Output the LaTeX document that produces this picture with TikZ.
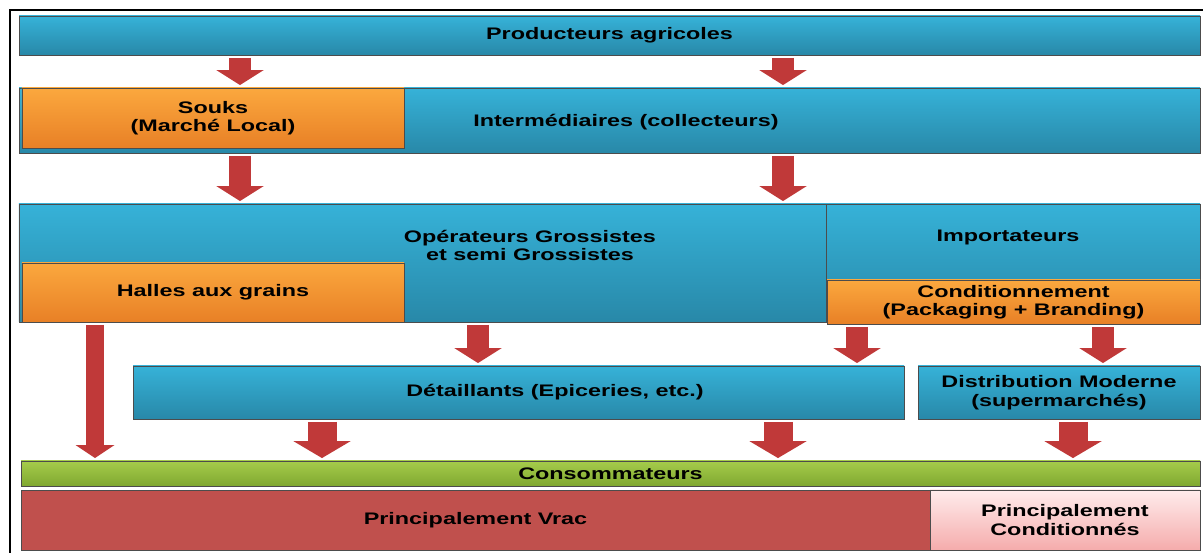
\documentclass[tikz,border=0pt]{standalone}
\usepackage{fontspec}
\setmainfont{Liberation Sans}[FakeStretch=1.4]
\usepackage{tikz}
\usetikzlibrary{arrows.meta, positioning, calc}

\begin{document}
\begin{tikzpicture}[
  box/.style={rectangle, draw=black!70, line width=0.5pt, inner sep=0pt, align=center,
    font=\fontsize{9.5}{10.5}\selectfont\bfseries},
  txt/.style={font=\fontsize{9.5}{10.5}\selectfont\bfseries, align=center, inner sep=0pt},
  bluebox/.style={box, top color=bluetop, bottom color=bluebot},
  orangebox/.style={box, top color=orangetop, bottom color=orangebot},
  flow/.style={draw=arrowred, line width=0.44cm, shorten <=0.05cm, shorten >=0.05cm,
    -{Triangle[width=0.95cm, length=0.3cm, line width=0pt]}},
  bigflow/.style={flow, line width=0.58cm, -{Triangle[width=1.15cm, length=0.34cm, line width=0pt]}},
  thinflow/.style={flow, line width=0.36cm, -{Triangle[width=0.78cm, length=0.26cm, line width=0pt]}}
]
  % Define colors
  \definecolor{bluetop}{RGB}{54,178,216}
  \definecolor{bluebot}{RGB}{40,136,168}
  \definecolor{orangetop}{RGB}{251,168,62}
  \definecolor{orangebot}{RGB}{232,128,38}
  \definecolor{greentop}{RGB}{165,204,75}
  \definecolor{greenbot}{RGB}{128,168,48}
  \definecolor{vracred}{RGB}{192,80,77}
  \definecolor{pinktop}{RGB}{255,236,236}
  \definecolor{pinkbot}{RGB}{245,172,172}
  \definecolor{arrowred}{RGB}{192,57,57}

  \useasboundingbox (0,0) rectangle (24.06,11.06);

  % Outer frame
  \draw[line width=1.1pt] (0.2,0) -- (0.2,10.86) -- (24.06,10.86);

  % Producers and collectors
  \node[bluebox, minimum width=23.62cm, minimum height=0.78cm] (prod) at (12.19,10.35) {Producteurs agricoles};
  \node[bluebox, minimum width=23.62cm, minimum height=1.30cm] (inter) at (12.19,8.65) {};
  \node[txt] (intertxt) at (12.52,8.62) {Intermédiaires (collecteurs)};
  \node[orangebox, minimum width=7.64cm, minimum height=1.20cm] (souks) at (4.26,8.70) {Souks\\(Marché Local)};

  % Wholesalers and importers
  \node[bluebox, minimum width=16.14cm, minimum height=2.36cm] (ope) at (8.45,5.80) {};
  \node[txt] (opetxt) at (10.60,6.15) {Opérateurs Grossistes\\et semi Grossistes};
  \node[orangebox, minimum width=7.64cm, minimum height=1.18cm] (halles) at (4.26,5.21) {Halles aux grains};
  \node[bluebox, minimum width=7.48cm, minimum height=2.36cm] (import) at (20.26,5.80) {};
  \node[txt] (importtxt) at (20.16,6.32) {Importateurs};
  \node[orangebox, minimum width=7.46cm, minimum height=0.88cm] (cond) at (20.27,5.02) {Conditionnement\\(Packaging + Branding)};

  % Retail
  \node[bluebox, minimum width=15.42cm, minimum height=1.06cm] (det) at (10.37,3.21) {};
  \node[txt] (dettxt) at (11.10,3.21) {Détaillants (Epiceries, etc.)};
  \node[bluebox, minimum width=5.64cm, minimum height=1.06cm] (distrib) at (21.18,3.21) {Distribution Moderne\\(supermarchés)};

  % Consumers
  \node[box, top color=greentop, bottom color=greenbot, minimum width=23.58cm, minimum height=0.50cm] (conso) at (12.21,1.59) {Consommateurs};
  \node[box, fill=vracred, minimum width=18.18cm, minimum height=1.20cm] (vrac) at (9.51,0.66) {Principalement Vrac};
  \node[box, top color=pinktop, bottom color=pinkbot, minimum width=5.40cm, minimum height=1.20cm] (condit) at (21.30,0.66) {Principalement\\Conditionnés};

  % Arrow columns
  \coordinate (c1) at (4.80,0);
  \coordinate (c2) at (15.66,0);
  \coordinate (c3) at (9.56,0);
  \coordinate (c4) at (17.14,0);
  \coordinate (c5) at (22.06,0);
  \coordinate (c6) at (1.90,0);
  \coordinate (c7) at (6.44,0);
  \coordinate (c8) at (15.56,0);
  \coordinate (c9) at (21.46,0);

  % Arrows
  \draw[flow] (prod.south -| c1) -- (inter.north -| c1);
  \draw[flow] (prod.south -| c2) -- (inter.north -| c2);
  \draw[flow] (inter.south -| c1) -- (ope.north -| c1);
  \draw[flow] (inter.south -| c2) -- (ope.north -| c2);
  \draw[flow] (ope.south -| c3) -- (det.north -| c3);
  \draw[flow] (cond.south -| c4) -- (det.north -| c4);
  \draw[flow] (cond.south -| c5) -- (distrib.north -| c5);
  \draw[thinflow] (halles.south -| c6) -- (conso.north -| c6);
  \draw[bigflow] (det.south -| c7) -- (conso.north -| c7);
  \draw[bigflow] (det.south -| c8) -- (conso.north -| c8);
  \draw[bigflow] (distrib.south -| c9) -- (conso.north -| c9);

\end{tikzpicture}
\end{document}
